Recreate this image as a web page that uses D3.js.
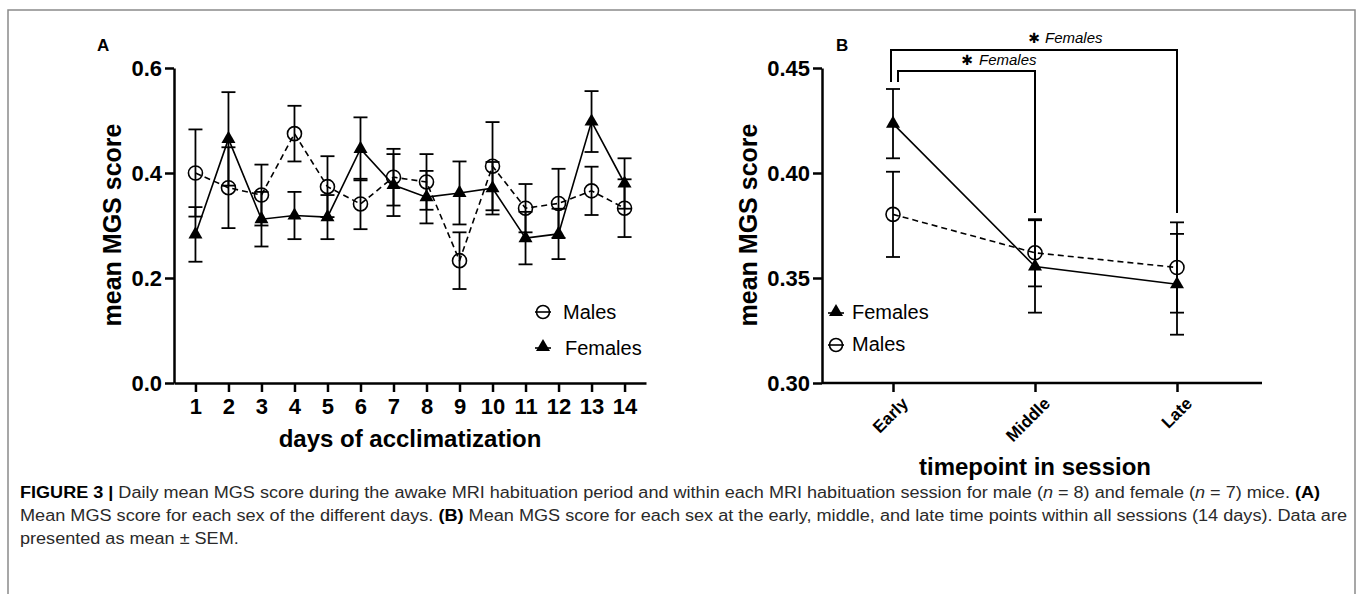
<!DOCTYPE html>
<html>
<head>
<meta charset="utf-8">
<script src="https://cdn.jsdelivr.net/npm/d3@7"></script>
<style>
  body { margin: 0; background: #fff; }
  svg { display: block; }
</style>
</head>
<body>
<svg id="fig" width="1357" height="594"></svg>
<script>
// panel A: daily means
const days = [1, 2, 3, 4, 5, 6, 7, 8, 9, 10, 11, 12, 13, 14];
const malesMean = [0.400, 0.372, 0.358, 0.475, 0.374, 0.341, 0.392, 0.383, 0.233, 0.413, 0.333, 0.342, 0.366, 0.333];
const malesSem = [0.083, 0.077, 0.058, 0.053, 0.058, 0.048, 0.054, 0.053, 0.054, 0.084, 0.046, 0.066, 0.046, 0.055];
const femalesMean = [0.283, 0.465, 0.312, 0.319, 0.316, 0.446, 0.377, 0.354, 0.362, 0.371, 0.276, 0.284, 0.498, 0.380];
const femalesSem = [0.052, 0.089, 0.052, 0.045, 0.042, 0.060, 0.059, 0.050, 0.060, 0.050, 0.050, 0.048, 0.058, 0.048];
const yTicksA = [0, 0.2, 0.4, 0.6];

// panel B: within-session timepoints
const timepoints = ["Early", "Middle", "Late"];
const femalesB = [0.4235, 0.3555, 0.3470];
const femalesBSem = [0.0165, 0.0220, 0.0240];
const malesB = [0.3803, 0.3620, 0.3550];
const malesBSem = [0.0203, 0.0160, 0.0215];
const yTicksB = [0.30, 0.35, 0.40, 0.45];
const comparisons = [["Early", "Middle"], ["Early", "Late"]];

const caption = [
  [["b", "FIGURE 3 | "], ["", "Daily mean MGS score during the awake MRI habituation period and within each MRI habituation session for male ("], ["i", "n"], ["", " = 8) and female ("], ["i", "n"], ["", " = 7) mice. "], ["b", "(A)"]],
  [["", "Mean MGS score for each sex of the different days. "], ["b", "(B)"], ["", " Mean MGS score for each sex at the early, middle, and late time points within all sessions (14 days). Data are"]],
  [["", "presented as mean \u00b1 SEM."]]
];

const svg = d3.select("#fig");
const font = "'Liberation Sans', Arial, sans-serif";

// frame around the figure
svg.append("rect")
  .attr("x", 8).attr("y", 10).attr("width", 1347).attr("height", 620)
  .attr("fill", "none").attr("stroke", "#8a8a8a").attr("stroke-width", 1.5);

const triangle = d3.symbol(d3.symbolTriangle).size(85);

function styleAxis(g) {
  g.selectAll("path, line").attr("stroke", "#000").attr("stroke-width", 2.5);
  g.selectAll("text").attr("font-family", font).attr("font-weight", "bold").attr("fill", "#000");
}

function errorBars(g, xs, ys, sems, x, y) {
  xs.forEach((d, i) => {
    const cx = x(d);
    const lo = y(ys[i] - sems[i]), hi = y(ys[i] + sems[i]);
    g.append("line").attr("x1", cx).attr("x2", cx).attr("y1", lo).attr("y2", hi);
    g.append("line").attr("x1", cx - 7).attr("x2", cx + 7).attr("y1", lo).attr("y2", lo);
    g.append("line").attr("x1", cx - 7).attr("x2", cx + 7).attr("y1", hi).attr("y2", hi);
  });
  g.attr("stroke", "#000").attr("stroke-width", 1.8);
}

// ---------- panel A ----------
const xA = d3.scaleLinear().domain([0.35, 14.65]).range([174, 646]);
const yA = d3.scaleLinear().domain([0, 0.6]).range([383, 68]);

svg.append("g")
  .attr("transform", "translate(0,383)")
  .call(d3.axisBottom(xA).tickValues(days).tickSize(9).tickSizeOuter(0).tickPadding(6))
  .call(styleAxis)
  .call(g => g.selectAll("text").attr("font-size", 22));

svg.append("g")
  .attr("transform", "translate(174,0)")
  .call(d3.axisLeft(yA).tickValues(yTicksA).tickFormat(d3.format(".1f")).tickSize(9).tickSizeOuter(0).tickPadding(3))
  .call(styleAxis)
  .call(g => g.selectAll("text").attr("font-size", 22).attr("dy", "0.36em"));

const lineA = (vals) => d3.line().x((d, i) => xA(days[i])).y(d => yA(d))(vals);

svg.append("path").attr("d", lineA(malesMean))
  .attr("fill", "none").attr("stroke", "#000").attr("stroke-width", 1.6).attr("stroke-dasharray", "6,4");
svg.append("path").attr("d", lineA(femalesMean))
  .attr("fill", "none").attr("stroke", "#000").attr("stroke-width", 1.6);

errorBars(svg.append("g"), days, malesMean, malesSem, xA, yA);
errorBars(svg.append("g"), days, femalesMean, femalesSem, xA, yA);

svg.append("g").selectAll("circle").data(malesMean).join("circle")
  .attr("cx", (d, i) => xA(days[i])).attr("cy", d => yA(d)).attr("r", 7)
  .attr("fill", "none").attr("stroke", "#000").attr("stroke-width", 1.6);
svg.append("g").selectAll("path").data(femalesMean).join("path")
  .attr("d", triangle).attr("transform", (d, i) => `translate(${xA(days[i])},${yA(d)})`)
  .attr("fill", "#000");

// legend A
const legA = svg.append("g").attr("font-family", font).attr("font-size", 20);
legA.append("line").attr("x1", 535).attr("x2", 551).attr("y1", 312).attr("y2", 312).attr("stroke", "#000").attr("stroke-width", 1.6);
legA.append("circle").attr("cx", 543).attr("cy", 312).attr("r", 6.5).attr("fill", "none").attr("stroke", "#000").attr("stroke-width", 1.6);
legA.append("text").attr("x", 563).attr("y", 319).text("Males");
legA.append("line").attr("x1", 535).attr("x2", 551).attr("y1", 348).attr("y2", 348).attr("stroke", "#000").attr("stroke-width", 1.6);
legA.append("path").attr("d", triangle).attr("transform", "translate(543,347)").attr("fill", "#000");
legA.append("text").attr("x", 565).attr("y", 355).text("Females");

// titles A
svg.append("text").attr("x", 97).attr("y", 51).attr("font-family", font).attr("font-weight", "bold").attr("font-size", 17).text("A");
svg.append("text").attr("transform", "translate(121,225) rotate(-90)").attr("text-anchor", "middle")
  .attr("font-family", font).attr("font-weight", "bold").attr("font-size", 25).text("mean MGS score");
svg.append("text").attr("x", 410).attr("y", 447).attr("text-anchor", "middle")
  .attr("font-family", font).attr("font-weight", "bold").attr("font-size", 24).text("days of acclimatization");

// ---------- panel B ----------
const xB = d3.scalePoint().domain(timepoints).range([893, 1177]);
const yB = d3.scaleLinear().domain([0.30, 0.45]).range([383, 68]);
const axisLeftB = 822, axisRightB = 1262;

const gxB = svg.append("g")
  .attr("transform", "translate(0,383)")
  .call(d3.axisBottom(xB).tickSize(9).tickSizeOuter(0))
  .call(styleAxis);
gxB.select(".domain").attr("d", `M${axisLeftB},0H${axisRightB}`);
gxB.selectAll("text")
  .attr("font-size", 17).attr("text-anchor", "end")
  .attr("dy", "0.8em").attr("y", 0).attr("x", 0)
  .attr("transform", "translate(6,12) rotate(-45)");

svg.append("g")
  .attr("transform", `translate(${axisLeftB},0)`)
  .call(d3.axisLeft(yB).tickValues(yTicksB).tickFormat(d3.format(".2f")).tickSize(9).tickSizeOuter(0).tickPadding(3))
  .call(styleAxis)
  .call(g => g.selectAll("text").attr("font-size", 22).attr("dy", "0.36em"));

const lineB = (vals) => d3.line().x((d, i) => xB(timepoints[i])).y(d => yB(d))(vals);
svg.append("path").attr("d", lineB(malesB))
  .attr("fill", "none").attr("stroke", "#000").attr("stroke-width", 1.6).attr("stroke-dasharray", "6,4");
svg.append("path").attr("d", lineB(femalesB))
  .attr("fill", "none").attr("stroke", "#000").attr("stroke-width", 1.6);

errorBars(svg.append("g"), timepoints, malesB, malesBSem, xB, yB);
errorBars(svg.append("g"), timepoints, femalesB, femalesBSem, xB, yB);

svg.append("g").selectAll("circle").data(malesB).join("circle")
  .attr("cx", (d, i) => xB(timepoints[i])).attr("cy", d => yB(d)).attr("r", 7)
  .attr("fill", "none").attr("stroke", "#000").attr("stroke-width", 1.6);
svg.append("g").selectAll("path").data(femalesB).join("path")
  .attr("d", triangle).attr("transform", (d, i) => `translate(${xB(timepoints[i])},${yB(d)})`)
  .attr("fill", "#000");

// significance brackets
const brackets = svg.append("g").attr("fill", "none").attr("stroke", "#000").attr("stroke-width", 2);
const bracketTop = [71, 50];
const bracketLeft = [898, 891];
comparisons.forEach((c, i) => {
  const x2 = xB(c[1]);
  brackets.append("path").attr("d", `M${bracketLeft[i]},82V${bracketTop[i]}H${x2}V213`);
});
const stars = svg.append("g").attr("font-family", font).attr("font-size", 15);
[[967, 65, 979], [1034, 43, 1045]].forEach(([sx, sy, tx]) => {
  stars.append("text").attr("x", sx).attr("y", sy).attr("text-anchor", "middle")
    .attr("font-family", "'DejaVu Sans'").attr("font-size", 14).text("\u2731");
  stars.append("text").attr("x", tx).attr("y", sy).attr("font-style", "italic").text("Females");
});

// legend B
const legB = svg.append("g").attr("font-family", font).attr("font-size", 20);
legB.append("line").attr("x1", 828).attr("x2", 844).attr("y1", 313).attr("y2", 313).attr("stroke", "#000").attr("stroke-width", 1.6);
legB.append("path").attr("d", triangle).attr("transform", "translate(836,312)").attr("fill", "#000");
legB.append("text").attr("x", 852).attr("y", 319).text("Females");
legB.append("line").attr("x1", 828).attr("x2", 844).attr("y1", 345).attr("y2", 345).attr("stroke", "#000").attr("stroke-width", 1.6);
legB.append("circle").attr("cx", 836).attr("cy", 345).attr("r", 6.5).attr("fill", "none").attr("stroke", "#000").attr("stroke-width", 1.6);
legB.append("text").attr("x", 852).attr("y", 351).text("Males");

// titles B
svg.append("text").attr("x", 836).attr("y", 51).attr("font-family", font).attr("font-weight", "bold").attr("font-size", 17).text("B");
svg.append("text").attr("transform", "translate(757,225) rotate(-90)").attr("text-anchor", "middle")
  .attr("font-family", font).attr("font-weight", "bold").attr("font-size", 25).text("mean MGS score");
svg.append("text").attr("x", 1035).attr("y", 475).attr("text-anchor", "middle")
  .attr("font-family", font).attr("font-weight", "bold").attr("font-size", 24).text("timepoint in session");

// ---------- caption ----------
const capG = svg.append("g").attr("font-family", font).attr("font-size", 16).attr("fill", "#2a2a2a");
const lineWidths = [1300, 1327, null];
const capTexts = caption.map((parts, li) => {
  const t = capG.append("text").attr("x", 20).attr("y", 498 + li * 23);
  parts.forEach(([st, s]) => {
    const ts = t.append("tspan").text(s);
    if (st === "b") ts.attr("font-weight", "bold").attr("fill", "#000");
    if (st === "i") ts.attr("font-style", "italic");
  });
  return t;
});
const squeeze = lineWidths[0] / capTexts[0].node().getComputedTextLength();
capTexts.forEach((t, i) => {
  const w = lineWidths[i] || t.node().getComputedTextLength() * squeeze;
  t.attr("textLength", w).attr("lengthAdjust", "spacingAndGlyphs");
});
</script>
</body>
</html>
